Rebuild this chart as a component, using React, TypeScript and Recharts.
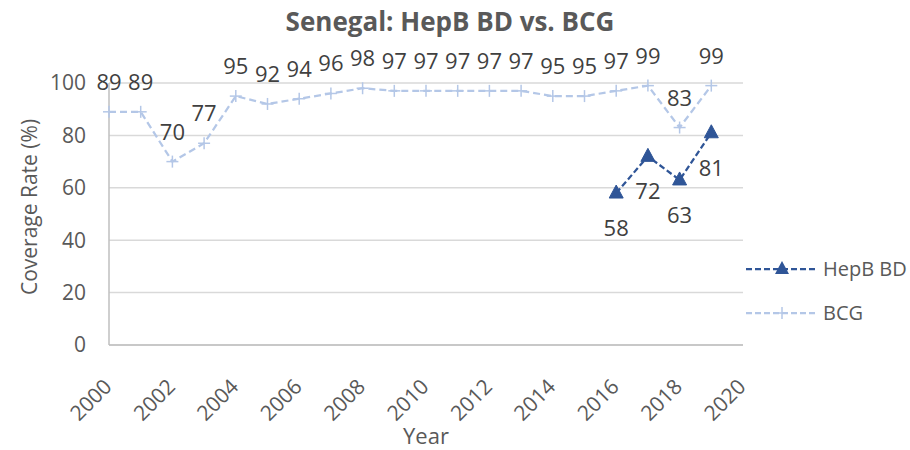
import React from 'react';
import { LineChart, Line, XAxis, YAxis, CartesianGrid, Legend, LabelList } from 'recharts';

const years = [2000, 2001, 2002, 2003, 2004, 2005, 2006, 2007, 2008, 2009, 2010, 2011, 2012, 2013, 2014, 2015, 2016, 2017, 2018, 2019];
const bcgValues = [89, 89, 70, 77, 95, 92, 94, 96, 98, 97, 97, 97, 97, 97, 95, 95, 97, 99, 83, 99];
const hepbValues: (number | null)[] = [null, null, null, null, null, null, null, null, null, null, null, null, null, null, null, null, 58, 72, 63, 81];
const xTicks = [2000, 2002, 2004, 2006, 2008, 2010, 2012, 2014, 2016, 2018, 2020];
const yTicks = [0, 20, 40, 60, 80, 100];

const data = years.map((year, i) => ({ year, bcg: bcgValues[i], hepb: hepbValues[i] }));

const HEPB = '#2F5597';
const BCG = '#B4C7E7';
const TEXT = '#595959';
const FONT = '"Open Sans", sans-serif';

const PlusDot = (props: any) => {
  const { cx, cy } = props;
  if (cx == null || cy == null) return null;
  const s = 6;
  return (
    <g>
      <line x1={cx - s} y1={cy} x2={cx + s} y2={cy} stroke={BCG} strokeWidth={1.5} />
      <line x1={cx} y1={cy - s} x2={cx} y2={cy + s} stroke={BCG} strokeWidth={1.5} />
    </g>
  );
};

const TriangleDot = (props: any) => {
  const { cx, cy, value } = props;
  if (cx == null || cy == null || value == null) return null;
  const w = 7;
  return <path d={`M${cx},${cy - 8} L${cx + w},${cy + 5} L${cx - w},${cy + 5} Z`} fill={HEPB} stroke={HEPB} strokeWidth={1} />;
};

const XTick = (props: any) => {
  const { x, y, payload } = props;
  return (
    <text x={x + 4} y={y + 35} transform={`rotate(-45, ${x + 4}, ${y + 35})`} textAnchor="end" fill={TEXT} fontSize={21} fontFamily={FONT}>
      {payload.value}
    </text>
  );
};

const bcgLabel = (props: any) => {
  const { x, y, value } = props;
  if (value == null) return null;
  return (
    <text x={x} y={y - 22} textAnchor="middle" fill="#404040" fontSize={22} fontFamily={FONT}>
      {value}
    </text>
  );
};

const hepbLabel = (props: any) => {
  const { x, y, value } = props;
  if (value == null) return null;
  return (
    <text x={x} y={y + 43} textAnchor="middle" fill="#404040" fontSize={22} fontFamily={FONT}>
      {value}
    </text>
  );
};

const LegendContent = () => {
  const items = [
    { name: 'HepB BD', color: HEPB, kind: 'tri' },
    { name: 'BCG', color: BCG, kind: 'plus' },
  ];
  return (
    <svg width={165} height={80} style={{ display: 'block' }}>
      {items.map((it, i) => {
        const cy = 14 + i * 44;
        return (
          <g key={it.name}>
            <line x1={1} y1={cy} x2={71} y2={cy} stroke={it.color} strokeWidth={2.25} strokeDasharray="6 3" />
            {it.kind === 'tri' ? (
              <path d={`M37,${cy - 8} L44,${cy + 5} L30,${cy + 5} Z`} fill={it.color} />
            ) : (
              <g>
                <line x1={31} y1={cy} x2={43} y2={cy} stroke={it.color} strokeWidth={1.5} />
                <line x1={37} y1={cy - 6} x2={37} y2={cy + 6} stroke={it.color} strokeWidth={1.5} />
              </g>
            )}
            <text x={78} y={cy + 7} fill={TEXT} fontSize={20} fontFamily={FONT}>
              {it.name}
            </text>
          </g>
        );
      })}
    </svg>
  );
};

export default function App() {
  return (
    <div style={{ position: 'absolute', left: 0, top: 0, width: 910, height: 450, background: '#fff' }}>
      <LineChart width={910} height={450} data={data} margin={{ top: 83, right: 167, bottom: 0, left: 0 }}>
        <text x={450} y={31} textAnchor="middle" fill={TEXT} fontSize={26} fontWeight="bold" fontFamily={FONT}>
          Senegal: HepB BD vs. BCG
        </text>
        <CartesianGrid vertical={false} stroke="#D9D9D9" strokeWidth={1.5} />
        <XAxis
          dataKey="year"
          type="number"
          domain={[2000, 2020]}
          ticks={xTicks}
          interval={0}
          height={105}
          tick={<XTick />}
          tickLine={false}
          axisLine={{ stroke: '#BFBFBF', strokeWidth: 1.5 }}
          label={(p: any) => {
            const vb = p.viewBox;
            return (
              <text x={vb.x + vb.width / 2} y={444} textAnchor="middle" fill={TEXT} fontSize={22} fontFamily={FONT}>
                Year
              </text>
            );
          }}
        />
        <YAxis
          domain={[0, 100]}
          ticks={yTicks}
          width={109}
          tickSize={0}
          tickMargin={23}
          tickLine={false}
          axisLine={{ stroke: '#BFBFBF', strokeWidth: 1.5 }}
          tick={{ fill: TEXT, fontSize: 21, fontFamily: FONT }}
          label={(p: any) => {
            const vb = p.viewBox;
            const cy = vb.y + vb.height / 2 - 7;
            return (
              <text x={29} y={cy} transform={`rotate(-90, 29, ${cy})`} textAnchor="middle" dominantBaseline="central" fill={TEXT} fontSize={21} fontFamily={FONT}>
                Coverage Rate (%)
              </text>
            );
          }}
        />
        <Legend
          layout="vertical"
          align="center"
          verticalAlign="middle"
          content={<LegendContent />}
          wrapperStyle={{ left: 745, top: 255, width: 165 }}
        />
        <Line
          name="HepB BD"
          dataKey="hepb"
          stroke={HEPB}
          strokeWidth={2.25}
          strokeDasharray="6 3"
          dot={<TriangleDot />}
          activeDot={false}
          connectNulls={false}
          isAnimationActive={false}
        >
          <LabelList dataKey="hepb" content={hepbLabel} />
        </Line>
        <Line
          name="BCG"
          dataKey="bcg"
          stroke={BCG}
          strokeWidth={2.25}
          strokeDasharray="7 4"
          dot={<PlusDot />}
          activeDot={false}
          isAnimationActive={false}
        >
          <LabelList dataKey="bcg" content={bcgLabel} />
        </Line>
      </LineChart>
    </div>
  );
}
